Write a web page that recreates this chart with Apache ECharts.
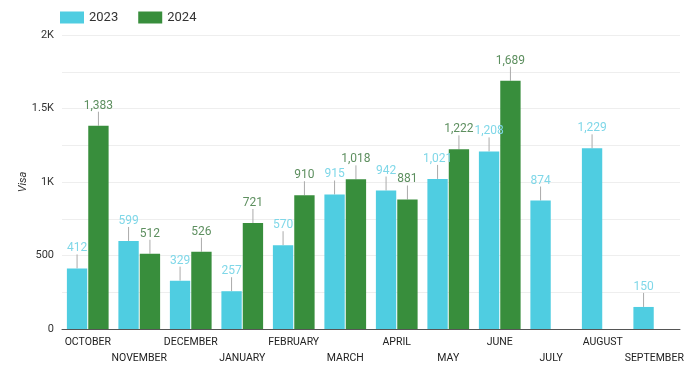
<!DOCTYPE html>
<html><head><meta charset="utf-8">
<script src="https://cdn.jsdelivr.net/npm/echarts@6/dist/echarts.min.js"></script>
<style>html,body{margin:0;padding:0;background:#fff}#c{width:696px;height:373px}</style>
</head><body><div id="c"></div>
<script>
const categories = ['OCTOBER','NOVEMBER','DECEMBER','JANUARY','FEBRUARY','MARCH','APRIL','MAY','JUNE','JULY','AUGUST','SEPTEMBER'];
const values2023 = [412, 599, 329, 257, 570, 915, 942, 1021, 1208, 874, 1229, 150];
const values2024 = [1383, 512, 526, 721, 910, 1018, 881, 1222, 1689, null, null, null];
const seriesNames = ['2023', '2024'];

const fmt = v => Number(v).toLocaleString('en-US');
const font = 'Roboto, sans-serif';

function mk(name, data, color, labelColor) {
  return {
    name, type: 'bar', data,
    barGap: '5%', barCategoryGap: '19%',
    itemStyle: { color },
    label: { show: true, position: 'top', distance: 3, color: labelColor, fontSize: 12, fontFamily: font,
      formatter: p => p.value == null ? '' : fmt(p.value) },
    labelLayout: { dy: -11 },
    labelLine: { show: true, lineStyle: { color: '#aaa', width: 1 } }
  };
}

const chart = echarts.init(document.getElementById('c'));
chart.setOption({
  animation: false,
  textStyle: { fontFamily: font },
  legend: {
    left: 55, top: 6, itemWidth: 24, itemHeight: 12, itemGap: 20,
    icon: 'rect',
    textStyle: { fontSize: 13, color: '#333', fontFamily: font },
    data: seriesNames
  },
  grid: { left: 62, right: 16, top: 35, bottom: 44 },
  xAxis: {
    type: 'category', data: categories,
    axisTick: { show: false },
    axisLine: { lineStyle: { color: '#555' } },
    axisLabel: { interval: 0, color: '#222', fontSize: 10.5, fontFamily: font, lineHeight: 16, margin: 5,
      formatter: (v, i) => i % 2 ? '\n' + v : v }
  },
  yAxis: {
    type: 'value', min: 0, max: 2000, interval: 250,
    name: 'Visa', nameLocation: 'middle', nameGap: 33, nameRotate: 90, nameMoveOverlap: false,
    nameTextStyle: { fontSize: 11, color: '#333', fontStyle: 'italic', fontFamily: font },
    axisLine: { show: false }, axisTick: { show: false },
    splitLine: { lineStyle: { color: '#eeeeee' } },
    axisLabel: { color: '#333', fontSize: 11, margin: 8, fontFamily: font,
      formatter: v => v % 500 !== 0 ? '' : (v >= 1000 ? (v / 1000) + 'K' : String(v)) }
  },
  series: [
    mk(seriesNames[0], values2023, '#4fcde1', '#7fd7e8'),
    mk(seriesNames[1], values2024, '#388e3c', '#5d8f5f')
  ]
});
</script></body></html>
